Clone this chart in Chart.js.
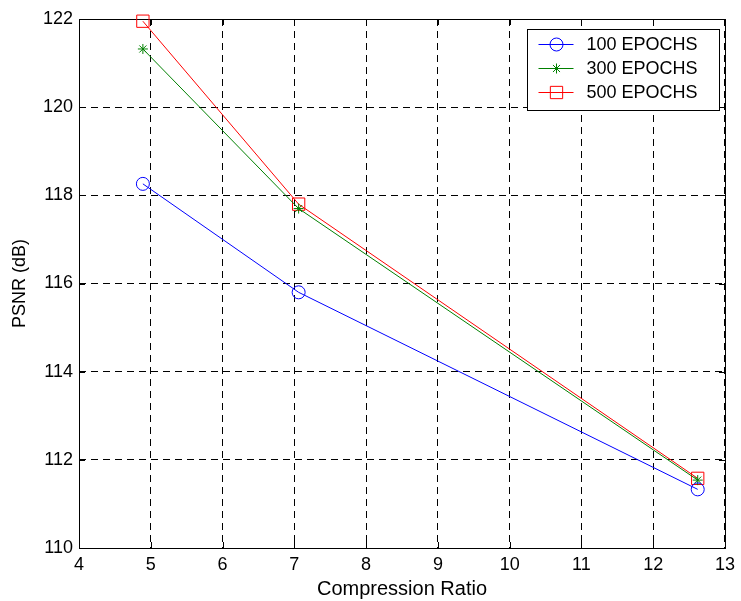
<!DOCTYPE html>
<html>
<head>
<meta charset="utf-8">
<title>PSNR vs Compression Ratio</title>
<script src="https://cdn.jsdelivr.net/npm/chart.js@4.4.1/dist/chart.umd.min.js"></script>
<style>
  html, body { margin:0; padding:0; background:#fff; }
  #wrap { position:relative; width:741px; height:601px; }
</style>
</head>
<body>
<div id="wrap"><canvas id="chart" width="741" height="601"></canvas></div>
<script>
// values
const compressionRatio = [4.89, 7.06, 12.62];
const psnr100 = [118.26, 115.80, 111.33];
const psnr300 = [121.32, 117.70, 111.54];
const psnr500 = [121.95, 117.80, 111.58];
const seriesNames = ['100 EPOCHS', '300 EPOCHS', '500 EPOCHS'];
const xTicks = [4, 5, 6, 7, 8, 9, 10, 11, 12, 13];
const yTicks = [110, 112, 114, 116, 118, 120, 122];

const FONT = '"Liberation Sans", Arial, sans-serif';
const pts = ys => compressionRatio.map((x, i) => ({ x, y: ys[i] }));

// MATLAB-ish box: frame, inward ticks on all four sides, boxed legend
const frameAndLegend = {
  id: 'frameAndLegend',
  beforeDatasetsDraw(chart){
    const { ctx, chartArea: a, scales } = chart;
    ctx.save();
    ctx.strokeStyle = '#000';
    ctx.lineWidth = 1;
    ctx.setLineDash([]);
    ctx.strokeRect(a.left + 0.5, a.top + 0.5, a.right - a.left, a.bottom - a.top);
    const tl = 6;
    ctx.beginPath();
    xTicks.forEach(v => {
      const px = Math.round(scales.x.getPixelForValue(v)) + 0.5;
      ctx.moveTo(px, a.bottom); ctx.lineTo(px, a.bottom - tl);
      ctx.moveTo(px, a.top); ctx.lineTo(px, a.top + tl);
    });
    yTicks.forEach(v => {
      const py = Math.round(scales.y.getPixelForValue(v)) + 0.5;
      ctx.moveTo(a.left, py); ctx.lineTo(a.left + tl, py);
      ctx.moveTo(a.right, py); ctx.lineTo(a.right - tl, py);
    });
    ctx.stroke();
    ctx.restore();
  },
  afterDatasetsDraw(chart){
    const { ctx } = chart;
    ctx.save();
    ctx.lineWidth = 1;
    ctx.setLineDash([]);
    // legend box in the top-right corner
    const bx = 527.5, by = 29.5, bw = 192, bh = 81;
    ctx.fillStyle = '#fff';
    ctx.strokeStyle = '#000';
    ctx.fillRect(bx, by, bw, bh);
    ctx.strokeRect(bx, by, bw, bh);
    ctx.font = '18px ' + FONT;
    ctx.textBaseline = 'middle';
    ctx.textAlign = 'left';
    chart.data.datasets.forEach((ds, i) => {
      const yy = by + 15 + i * 24;
      ctx.strokeStyle = ds.borderColor;
      ctx.beginPath();
      ctx.moveTo(bx + 11, yy); ctx.lineTo(bx + 46, yy);
      ctx.stroke();
      ctx.fillStyle = 'rgba(0,0,0,0)';
      Chart.helpers.drawPoint(ctx, {
        pointStyle: ds.pointStyle, radius: ds.pointRadius, borderWidth: 1, rotation: 0
      }, bx + 29, yy);
      ctx.fillStyle = '#000';
      ctx.fillText(ds.label, bx + 59, yy + 1);
    });
    ctx.restore();
  }
};

const mkSet = (label, data, color, style, r) => ({
  label, data, borderColor: color, backgroundColor: 'rgba(0,0,0,0)',
  pointBorderColor: color, pointBackgroundColor: 'rgba(0,0,0,0)',
  borderWidth: 1, pointStyle: style, pointRadius: r, pointBorderWidth: 1,
  pointHoverRadius: r, tension: 0, fill: false, clip: false
});

new Chart(document.getElementById('chart').getContext('2d'), {
  type: 'line',
  data: {
    datasets: [
      mkSet(seriesNames[0], pts(psnr100), '#0000ff', 'circle', 6.5),
      mkSet(seriesNames[1], pts(psnr300), '#008000', 'star', 5),
      mkSet(seriesNames[2], pts(psnr500), '#ff0000', 'rect', 8.7)
    ]
  },
  options: {
    responsive: false,
    animation: false,
    devicePixelRatio: 1,
    layout: { padding: { top: 19, right: 10, left: 0, bottom: 0 } },
    plugins: { legend: { display: false }, tooltip: { enabled: false } },
    scales: {
      x: {
        type: 'linear', min: 4, max: 13,
        afterBuildTicks: s => { s.ticks = xTicks.map(v => ({ value: v })); },
        afterFit: s => { s.height = 53; },
        grid: { color: '#000', lineWidth: 1, drawTicks: false, tickLength: 0 },
        border: { display: false, dash: [7, 5] },
        ticks: { color: '#000', padding: 6, maxRotation: 0, font: { family: FONT, size: 18 } },
        title: { display: true, text: 'Compression Ratio', color: '#000', padding: { top: 3, bottom: 0 }, font: { family: FONT, size: 20 } }
      },
      y: {
        type: 'linear', min: 110, max: 122,
        afterBuildTicks: s => { s.ticks = yTicks.map(v => ({ value: v })); },
        afterFit: s => { s.width = 79; },
        grid: { color: '#000', lineWidth: 1, drawTicks: false, tickLength: 0 },
        border: { display: false, dash: [7, 5] },
        ticks: { color: '#000', padding: 6, font: { family: FONT, size: 18 } },
        title: { display: true, text: 'PSNR (dB)', color: '#000', padding: { top: 9, bottom: 0 }, font: { family: FONT, size: 18 } }
      }
    }
  },
  plugins: [frameAndLegend]
});
</script>
</body>
</html>
